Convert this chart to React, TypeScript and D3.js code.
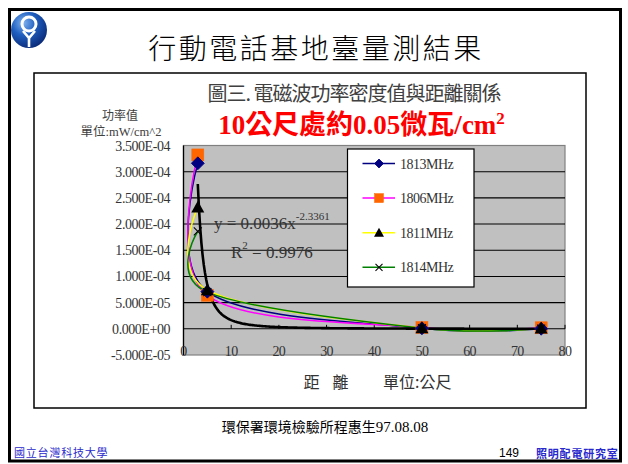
import React from 'react';
import * as d3 from 'd3';

// Distance from the base station (m) and measured power density (mW/cm^2)
const distances = [3, 5, 50, 75];
const seriesNames = ['1813MHz', '1806MHz', '1811MHz', '1814MHz'];
const values1813 = [3.16e-4, 7.1e-5, 1.0e-6, 2.0e-7];
const values1806 = [3.32e-4, 6.4e-5, 2.5e-6, 2.0e-6];
const values1811 = [2.32e-4, 7.4e-5, 1.5e-6, 1.0e-6];
const values1814 = [1.86e-4, 7.0e-5, 1.2e-6, 5.0e-7];
const seriesColors = ['#000080', '#ff00ff', '#ffff00', '#008000'];
const markerKinds = ['diamond', 'square', 'triangle', 'cross'];

const yTicks = [-5e-5, 0, 5e-5, 1e-4, 1.5e-4, 2e-4, 2.5e-4, 3e-4, 3.5e-4];
const xTicks = [0, 10, 20, 30, 40, 50, 60, 70, 80];

// Power-law trendline y = a * x^b
const fitA = 0.0036;
const fitB = -2.3361;
const fitR2 = '0.9976';
const fitRange = [3, 75];

const serif = '"Liberation Serif", "Noto Sans CJK TC", serif';
const cjk = '"Noto Sans CJK TC", "Liberation Serif", sans-serif';

function sci(v: number): string {
  if (v === 0) return '0.000E+00';
  const e = Math.floor(Math.log10(Math.abs(v)) + 1e-9);
  const m = v / Math.pow(10, e);
  const sign = e < 0 ? '-' : '+';
  return `${m.toFixed(3)}E${sign}${String(Math.abs(e)).padStart(2, '0')}`;
}

function Marker({ kind, x, y, s }: { kind: string; x: number; y: number; s: number }) {
  if (kind === 'diamond') {
    return <path d={`M${x},${y - s}L${x + s},${y}L${x},${y + s}L${x - s},${y}Z`} fill="#000080" stroke="#000080" strokeWidth={0.8} />;
  }
  if (kind === 'square') {
    return <rect x={x - s} y={y - s} width={2 * s} height={2 * s} fill="#ff6600" stroke="#ff6600" strokeWidth={0.5} />;
  }
  if (kind === 'triangle') {
    return <path d={`M${x},${y - s}L${x + s},${y + s * 0.8}L${x - s},${y + s * 0.8}Z`} fill="#000" />;
  }
  return (
    <g stroke="#000" strokeWidth={1.1}>
      <line x1={x - s} y1={y - s} x2={x + s} y2={y + s} />
      <line x1={x - s} y1={y + s} x2={x + s} y2={y - s} />
    </g>
  );
}

export default function App() {
  const x = d3.scaleLinear().domain([0, 80]).range([183.5, 565]);
  const y = d3.scaleLinear().domain([-5e-5, 3.5e-4]).range([355, 145.5]);

  const allSeries = [values1813, values1806, values1811, values1814];
  const line = d3
    .line<number>()
    .x((_, i) => x(distances[i]))
    .y((d) => y(d))
    .curve(d3.curveCardinal.tension(0));

  const fitXs = d3.range(fitRange[0], fitRange[1] + 0.001, 0.25);
  const fitLine = d3
    .line<number>()
    .x((d) => x(d))
    .y((d) => y(fitA * Math.pow(d, fitB)));

  const [plotL, plotR] = x.range();
  const [plotB, plotT] = y.range();

  // draw order for markers: squares under diamonds, then triangles and crosses
  const markerOrder = [1, 0, 2, 3];
  const markerSize: Record<string, number> = { diamond: 6.5, square: 6, triangle: 6.5, cross: 4 };
  const legendSize: Record<string, number> = { diamond: 4.5, square: 4.5, triangle: 5, cross: 3.5 };

  return (
    <svg width={628} height={464} style={{ position: 'absolute', left: 0, top: 0, display: 'block' }}>
      <defs>
        <radialGradient id="logoGrad" cx="35%" cy="30%" r="75%">
          <stop offset="0%" stopColor="#7fb2ee" />
          <stop offset="45%" stopColor="#1f5fc0" />
          <stop offset="100%" stopColor="#0a2a78" />
        </radialGradient>
      </defs>
      <rect x={0} y={0} width={628} height={464} fill="#fff" />
      {/* slide frame */}
      <rect x={9.5} y={9.5} width={611} height={451.5} fill="none" stroke="#000" strokeWidth={3} />

      {/* logo */}
      <g>
        <circle cx={29} cy={30} r={18} fill="url(#logoGrad)" />
        <circle cx={29} cy={24} r={7} fill="none" stroke="#fff" strokeWidth={3} />
        <path d="M23,31 L29,38 L35,31 M29,38 L29,47" fill="none" stroke="#fff" strokeWidth={2.6} />
      </g>

      {/* slide title */}
      <text x={316} y={59} textAnchor="middle" fontFamily={cjk} fontSize={28} fontWeight={300} letterSpacing={2.5} fill="#000">
        行動電話基地臺量測結果
      </text>

      {/* chart box */}
      <rect x={34} y={73} width={552} height={335} fill="#fff" stroke="#000" strokeWidth={1.5} />

      <text x={354} y={101} textAnchor="middle" fontFamily={cjk} fontSize={20} letterSpacing={-1} fill="#404040">
        圖三. 電磁波功率密度值與距離關係
      </text>
      <text x={361.5} y={134} textAnchor="middle" fontFamily={serif} fontSize={27} fontWeight="bold" fill="#ff0000">
        10公尺處約0.05微瓦/cm<tspan dy={-10} fontSize={17}>2</tspan>
      </text>

      <text x={120} y={120} textAnchor="middle" fontFamily={cjk} fontSize={12} fill="#404040">功率值</text>
      <text x={121} y={136} textAnchor="middle" fontFamily={serif} fontSize={12.5} fill="#404040">單位:mW/cm^2</text>

      {/* plot area */}
      <rect x={plotL} y={plotT} width={plotR - plotL} height={plotB - plotT} fill="#c0c0c0" stroke="#808080" strokeWidth={1.2} />
      {yTicks.slice(1, -1).map((t) => (
        <line key={t} x1={plotL} x2={plotR} y1={y(t)} y2={y(t)} stroke="#000" strokeWidth={1.1} />
      ))}
      {xTicks.slice(1).map((t) => (
        <line key={t} x1={x(t)} x2={x(t)} y1={y(0)} y2={y(0) - 4} stroke="#000" strokeWidth={1} />
      ))}
      <line x1={plotL} x2={plotL} y1={plotT} y2={plotB} stroke="#000" strokeWidth={1.3} />

      {/* y tick labels */}
      {yTicks.map((t) => (
        <text key={t} x={170} y={y(t) + 5} textAnchor="end" fontFamily={serif} fontSize={14} letterSpacing={-0.45} fill="#333">
          {sci(t)}
        </text>
      ))}
      {/* x tick labels */}
      {xTicks.map((t) => (
        <text key={t} x={x(t)} y={355.5} textAnchor="middle" fontFamily={serif} fontSize={14} letterSpacing={-0.6} fill="#333">
          {t}
        </text>
      ))}

      {/* series lines */}
      {allSeries.map((vals, i) => (
        <path key={seriesNames[i]} d={line(vals) || ''} fill="none" stroke={seriesColors[i]} strokeWidth={1.5} />
      ))}

      {/* trendline */}
      <path d={fitLine(fitXs) || ''} fill="none" stroke="#000" strokeWidth={2.6} />

      {/* markers */}
      {markerOrder.map((si) =>
        allSeries[si].map((v, j) => (
          <Marker key={`${si}-${j}`} kind={markerKinds[si]} x={x(distances[j])} y={y(v)} s={markerSize[markerKinds[si]]} />
        ))
      )}

      {/* trendline equation */}
      <text x={214} y={229} fontFamily={serif} fontSize={17} fill="#333">
        y = {fitA}x<tspan dy={-9} fontSize={11}>{fitB}</tspan>
      </text>
      <text x={231} y={258} fontFamily={serif} fontSize={17} fill="#333">
        R<tspan dy={-9} fontSize={11}>2</tspan><tspan dy={9}> = {fitR2}</tspan>
      </text>

      {/* legend */}
      <rect x={347.5} y={149} width={126.5} height={138} fill="#fff" stroke="#000" strokeWidth={1.2} />
      {seriesNames.map((name, i) => {
        const ry = 163.5 + i * 34.6;
        return (
          <g key={name}>
            <line x1={362.5} x2={395} y1={ry} y2={ry} stroke={seriesColors[i]} strokeWidth={1.5} />
            <Marker kind={markerKinds[i]} x={379} y={ry} s={legendSize[markerKinds[i]]} />
            <text x={400} y={ry + 5} fontFamily={serif} fontSize={14} letterSpacing={-0.5} fill="#333">
              {name}
            </text>
          </g>
        );
      })}

      {/* x axis title */}
      <text x={303.5} y={388} fontFamily={cjk} fontSize={16} fill="#333">距</text>
      <text x={332.5} y={388} fontFamily={cjk} fontSize={16} fill="#333">離</text>
      <text x={383} y={388} fontFamily={cjk} fontSize={16} fill="#333">單位:公尺</text>

      {/* source note */}
      <text x={325} y={432} textAnchor="middle" fontFamily={cjk} fontSize={14} fill="#000">
        環保署環境檢驗所程惠生<tspan fontFamily={serif} fontSize={15}>97.08.08</tspan>
      </text>

      {/* footer */}
      <text x={14} y={457} fontFamily={cjk} fontSize={11} letterSpacing={0.8} fill="#2a2acc">國立台灣科技大學</text>
      <text x={509} y={457} textAnchor="middle" fontFamily="Arial, 'Liberation Sans', sans-serif" fontSize={12} fill="#000">149</text>
      <text x={536} y={458} fontFamily={cjk} fontSize={11} fontWeight="bold" letterSpacing={0.8} fill="#2a2acc">照明配電研究室</text>
    </svg>
  );
}
